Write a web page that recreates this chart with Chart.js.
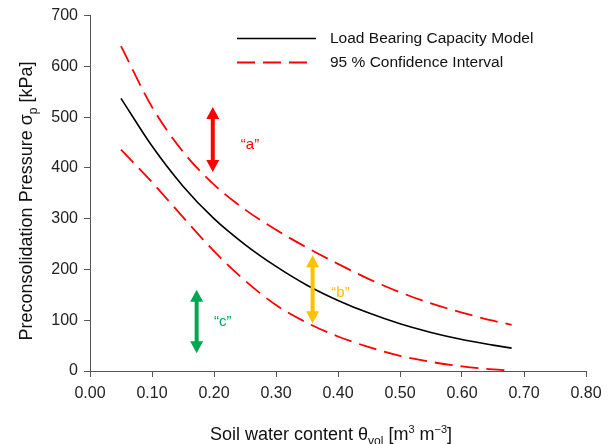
<!DOCTYPE html>
<html><head><meta charset="utf-8">
<script src="https://cdn.jsdelivr.net/npm/chart.js@4/dist/chart.umd.min.js"></script>
<style>html,body{margin:0;padding:0;background:#fff}#wrap{width:613px;height:444px;position:relative}</style>
</head><body><div id="wrap"><canvas id="c" width="613" height="444"></canvas></div>
<script>
// ---- data ----
const theta    = [0.05, 0.10, 0.15, 0.20, 0.25, 0.30, 0.35, 0.40, 0.45, 0.50, 0.55, 0.60, 0.65, 0.68];
const modelKPa = [537, 443, 364, 300, 249, 206, 169, 139, 114, 93, 76, 62, 51, 45];
const upperKPa = [640, 520, 432, 367, 318, 278, 243, 211, 181, 155, 133, 115, 99, 91];
const lowerKPa = [436, 372, 303, 236, 178, 130, 95, 68, 47, 30, 18, 9, 3, 1];
const xTicks = [0.00, 0.10, 0.20, 0.30, 0.40, 0.50, 0.60, 0.70, 0.80];
const yTicks = [0, 100, 200, 300, 400, 500, 600, 700];
const seriesNames = ['Load Bearing Capacity Model', '95 % Confidence Interval'];
const arrowTheta  = [0.198, 0.359, 0.172];
const arrowFrom   = [392, 94, 35];
const arrowTo     = [520, 228, 160];
const markLabels  = ['\u201Ca\u201D', '\u201Cb\u201D', '\u201Cc\u201D'];
const labelTheta  = [0.258, 0.404, 0.214];
const labelKPa    = [446, 153, 97];

const FONT = "'Liberation Sans', Arial, Helvetica, sans-serif";
Chart.defaults.font.family = FONT;
const RED = '#FF0000';
const markColors = ['#FF0000', '#FFC000', '#00A651'];

const pts = arr => theta.map((t, i) => ({x: t, y: arr[i]}));

function drawArrow(ctx, x, yb, yt, color) {
  const hl = 12, hw = 6.5, sw = 2;
  ctx.fillStyle = color;
  ctx.beginPath();
  ctx.moveTo(x, yt);
  ctx.lineTo(x + hw, yt + hl); ctx.lineTo(x + sw, yt + hl);
  ctx.lineTo(x + sw, yb - hl); ctx.lineTo(x + hw, yb - hl);
  ctx.lineTo(x, yb);
  ctx.lineTo(x - hw, yb - hl); ctx.lineTo(x - sw, yb - hl);
  ctx.lineTo(x - sw, yt + hl); ctx.lineTo(x - hw, yt + hl);
  ctx.closePath(); ctx.fill();
}

function richText(ctx, segs, x, y, align) {
  let w = 0;
  segs.forEach(s => { ctx.font = s.size + 'px ' + FONT; s.w = ctx.measureText(s.t).width; w += s.w; });
  let cx = align === 'center' ? x - w / 2 : x;
  ctx.textBaseline = 'alphabetic'; ctx.textAlign = 'left';
  segs.forEach(s => { ctx.font = s.size + 'px ' + FONT; ctx.fillText(s.t, cx, y + (s.dy || 0)); cx += s.w; });
}

const extras = {
  id: 'extras',
  afterDatasetsDraw(chart) {
    const ctx = chart.ctx, xs = chart.scales.x, ys = chart.scales.y;
    ctx.save();
    arrowTheta.forEach((t, i) => {
      drawArrow(ctx, xs.getPixelForValue(t), ys.getPixelForValue(arrowFrom[i]), ys.getPixelForValue(arrowTo[i]), markColors[i]);
    });
    ctx.font = '15px ' + FONT; ctx.textAlign = 'center'; ctx.textBaseline = 'middle';
    markLabels.forEach((l, i) => {
      ctx.fillStyle = markColors[i];
      ctx.fillText(l, xs.getPixelForValue(labelTheta[i]), ys.getPixelForValue(labelKPa[i]));
    });
    ctx.restore();
  },
  afterDraw(chart) {
    const ctx = chart.ctx, ca = chart.chartArea;
    const ds = chart.data.datasets;
    ctx.save();
    // legend
    const lx0 = ca.left + 147, lx1 = ca.left + 226, tx = ca.left + 240;
    const rows = [{ds: ds[0], y: 38.5}, {ds: ds[1], y: 62.5}];
    rows.forEach((r, i) => {
      ctx.strokeStyle = r.ds.borderColor; ctx.lineWidth = r.ds.borderWidth;
      ctx.setLineDash(r.ds.borderDash || []);
      ctx.beginPath(); ctx.moveTo(lx0, r.y); ctx.lineTo(lx1 - (i ? 8 : 0), r.y); ctx.stroke();
      ctx.setLineDash([]);
      ctx.fillStyle = '#111'; ctx.font = '15.5px ' + FONT; ctx.textAlign = 'left'; ctx.textBaseline = 'middle';
      ctx.fillText(seriesNames[i], tx, r.y + 0.5);
    });
    // axis titles
    ctx.fillStyle = '#111';
    richText(ctx, [
      {t: 'Soil water content \u03B8', size: 18},
      {t: 'vol', size: 12, dy: 5},
      {t: ' [m', size: 18},
      {t: '3', size: 11, dy: -7},
      {t: ' m', size: 18},
      {t: '\u22123', size: 11, dy: -7},
      {t: ']', size: 18}
    ], 331, 440, 'center');
    ctx.translate(32, 201); ctx.rotate(-Math.PI / 2);
    richText(ctx, [
      {t: 'Preconsolidation Pressure \u03C3', size: 18},
      {t: 'p', size: 12, dy: 5},
      {t: ' [kPa]', size: 18}
    ], 0, 0, 'center');
    ctx.restore();
  }
};

new Chart(document.getElementById('c'), {
  type: 'scatter',
  data: {
    datasets: [
      {label: seriesNames[0], data: pts(modelKPa), showLine: true, borderColor: '#000', borderWidth: 1.6, pointRadius: 0, cubicInterpolationMode: 'monotone'},
      {label: seriesNames[1], data: pts(upperKPa), showLine: true, borderColor: RED, borderWidth: 1.8, borderDash: [18, 8], pointRadius: 0, cubicInterpolationMode: 'monotone'},
      {label: seriesNames[1] + ' (lower)', data: pts(lowerKPa), showLine: true, borderColor: RED, borderWidth: 1.8, borderDash: [18, 8], pointRadius: 0, cubicInterpolationMode: 'monotone'}
    ]
  },
  options: {
    responsive: false, animation: false, devicePixelRatio: 1,
    layout: {padding: {top: 15, right: 27, left: 0, bottom: 0}},
    plugins: {legend: {display: false}, tooltip: {enabled: false}},
    scales: {
      x: {
        type: 'linear', min: 0, max: 0.8,
        afterBuildTicks: s => { s.ticks = xTicks.map(v => ({value: v})); },
        afterFit: s => { s.height = 73; },
        ticks: {callback: v => Number(v).toFixed(2), color: '#222', font: {size: 16}, padding: 7, maxRotation: 0, autoSkip: false},
        grid: {drawOnChartArea: false, drawTicks: true, tickLength: 6, color: '#555'},
        border: {display: true, color: '#555', width: 1}
      },
      y: {
        type: 'linear', min: 0, max: 700,
        afterBuildTicks: s => { s.ticks = yTicks.map(v => ({value: v})); },
        afterFit: s => { s.width = 90; },
        ticks: {color: '#222', font: {size: 16}, padding: 6, autoSkip: false},
        grid: {drawOnChartArea: false, drawTicks: true, tickLength: 6, color: '#555'},
        border: {display: true, color: '#555', width: 1}
      }
    }
  },
  plugins: [extras]
});
</script></body></html>
